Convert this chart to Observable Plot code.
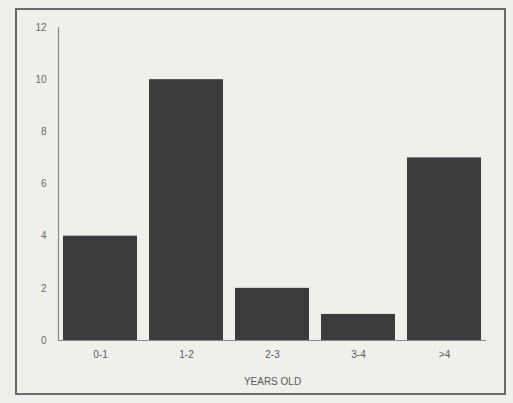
<!DOCTYPE html>
<html>
<head>
<meta charset="utf-8">
<script src="https://cdn.jsdelivr.net/npm/d3@7"></script>
<script src="https://cdn.jsdelivr.net/npm/@observablehq/plot@0.6"></script>
<style>
  html, body { margin: 0; padding: 0; background: #efefec; }
  #wrap { position: relative; width: 513px; height: 403px; overflow: hidden; }
  #box { position: absolute; left: 15px; top: 8px; width: 491px; height: 387px;
         border: 2px solid #6a6a6a; box-sizing: border-box; }
  #chart { position: absolute; left: 0; top: 0; }
  svg { font-family: "Liberation Sans", Arial, sans-serif; }
</style>
</head>
<body>
<div id="wrap"><div id="box"></div><div id="chart"></div></div>
<script>
const categories = ["0-1", "1-2", "2-3", "3-4", ">4"];
const counts = [4, 10, 2, 1, 7];
const yTicks = [0, 2, 4, 6, 8, 10, 12];
const xLabel = "YEARS OLD";

const data = categories.map((c, i) => ({cat: c, n: counts[i]}));

const chart = Plot.plot({
  width: 513,
  height: 403,
  marginLeft: 58,
  marginRight: 27,
  marginTop: 27,
  marginBottom: 63,
  style: {background: "transparent", color: "#5a5a5a", fontSize: "10px"},
  x: {domain: categories, paddingInner: 0.14, paddingOuter: 0.03, label: null},
  y: {domain: [0, 12], ticks: yTicks, label: null},
  marks: [
    Plot.barY(data, {x: "cat", y: "n", fill: "#3b3b3b"}),
    Plot.ruleY([0], {stroke: "#8a8a8a", strokeWidth: 1.2}),
    Plot.frame({anchor: "left", stroke: "#8a8a8a", strokeWidth: 1.2}),
    Plot.axisY({ticks: yTicks, tickSize: 0, tickPadding: 12, fill: "#6a6a6a", fontSize: 10}),
    Plot.axisX({tickSize: 0, tickPadding: 10, fill: "#5a5a5a", fontSize: 10}),
    Plot.text([xLabel], {frameAnchor: "bottom", dy: 44, fill: "#5a5a5a", fontSize: 10})
  ]
});
document.getElementById("chart").appendChild(chart);
</script>
</body>
</html>
